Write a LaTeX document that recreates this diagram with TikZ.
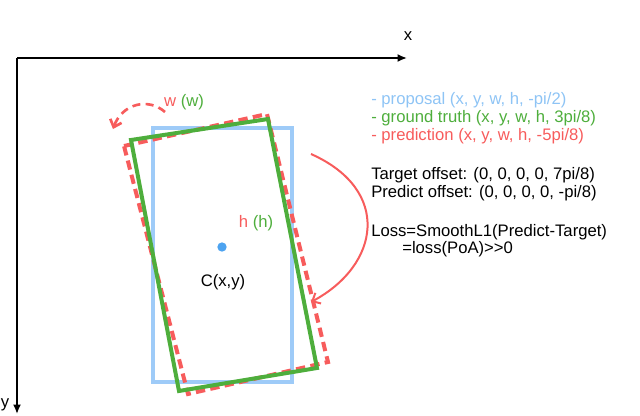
\documentclass[tikz,border=0pt]{standalone}
\usepackage{fontspec}
\setmainfont{Liberation Sans}
\usetikzlibrary{arrows.meta}
\definecolor{pblue}{RGB}{158,203,248}
\definecolor{tblue}{RGB}{142,196,245}
\definecolor{dblue}{RGB}{77,163,240}
\definecolor{pgreen}{RGB}{78,174,60}
\definecolor{pred}{RGB}{247,92,92}
\tikzset{
  axis/.style={line width=1.6pt,-{Latex[length=7pt,width=6pt]}},
  propbox/.style={draw=pblue,line width=3pt},
  gtbox/.style={draw=pgreen,line width=3pt},
  predbox/.style={draw=pred,line width=3pt,dash pattern=on 7pt off 4pt},
  lbl/.style={font=\fontsize{12.5}{14}\selectfont,inner sep=0pt,anchor=west},
}
\begin{document}
\begin{tikzpicture}[x=0.75pt,y=-0.75pt]
\useasboundingbox (0,0) rectangle (640,415);
% axes
\coordinate (O) at (17,58);
\coordinate (X) at (407,58);
\coordinate (Y) at (17,414);
\draw[axis] (O) -- (X);
\draw[axis] (O) -- (Y);
\node[lbl,anchor=center] (xl) at (408,36) {x};
\node[lbl,anchor=center] (yl) at (5,405) {y};
% proposal
\draw[propbox] (153,128) rectangle (292,382);
% prediction (dashed)
\draw[predbox] (124,146) -- (267,114) -- (328,362) -- (188,394) -- cycle;
% ground truth
\draw[gtbox] (131,140) -- (268,119) -- (317,368) -- (179,391) -- cycle;
% centre
\node[circle,fill=dblue,inner sep=0pt,minimum size=7pt] (c) at (222,247) {};
\node[lbl,anchor=center] (cl) at (223,282) {C(x,y)};
\node[lbl,anchor=center] (hl) at (256,223) {\textcolor{pred}{h} \textcolor{pgreen}{(h)}};
\node[lbl,anchor=center] (wl) at (184,102) {\textcolor{pred}{w} \textcolor{pgreen}{(w)}};
% arrows
\coordinate (wa) at (165,112);
\coordinate (wb) at (113,129);
\draw[pred,line width=2pt,dash pattern=on 6pt off 4pt,-{Straight Barb[length=5pt,width=9pt]}] (wa) .. controls (148,97) and (122,104) .. (wb);
\coordinate (ra) at (311,154);
\coordinate (rb) at (311,302);
\draw[pred,line width=1.5pt,-{Straight Barb[length=5pt,width=9pt]}] (ra) .. controls (392,190) and (380,265) .. (rb);
% legend
\node[lbl,text=tblue] (l1) at (371,100) {- proposal (x, y, w, h, -pi/2)};
\node[lbl,text=pgreen] (l2) at (371,118) {- ground truth (x, y, w, h, 3pi/8)};
\node[lbl,text=pred] (l3) at (371,136) {- prediction (x, y, w, h, -5pi/8)};
\node[lbl] (t1) at (371,175) {Target offset: (0, 0, 0, 0, 7pi/8)};
\node[lbl] (t2) at (371,193) {Predict offset: (0, 0, 0, 0, -pi/8)};
\node[lbl] (t3) at (371,232) {Loss=SmoothL1(Predict-Target)};
\node[lbl] (t4) at (402,249) {=loss(PoA){>}{>}0};
\end{tikzpicture}
\end{document}
